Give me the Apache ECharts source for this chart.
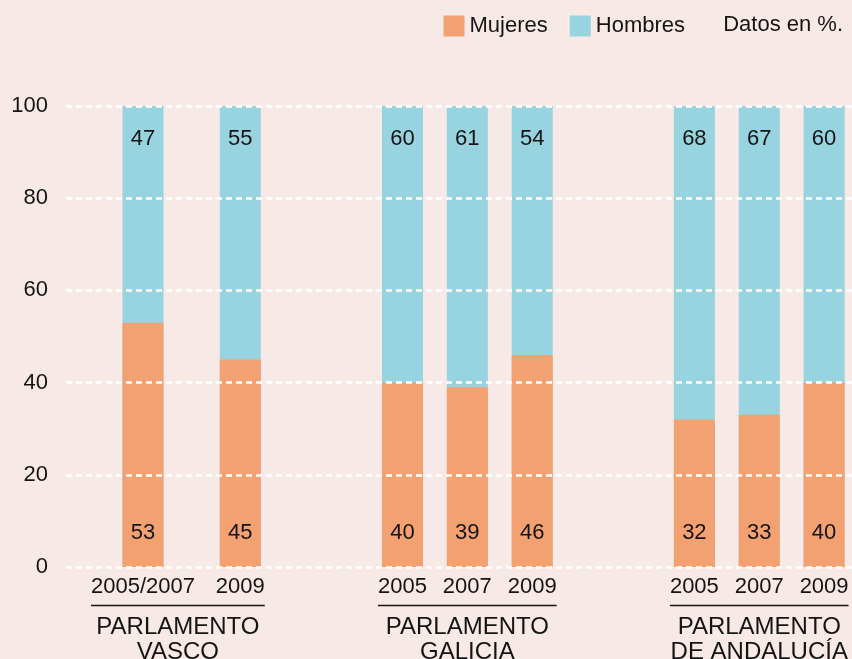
<!DOCTYPE html>
<html><head><meta charset="utf-8">
<script src="https://cdn.jsdelivr.net/npm/echarts@6/dist/echarts.min.js"></script>
<style>html,body{margin:0;padding:0;background:#f7e9e5}#c{width:852px;height:659px}</style>
</head><body><div id="c"></div>
<script>
const groupNames = ['PARLAMENTO\nVASCO', 'PARLAMENTO\nGALICIA', 'PARLAMENTO\nDE ANDALUCÍA'];
const yearLabels = ['2005/2007', '2009', '2005', '2007', '2009', '2005', '2007', '2009'];
const groupOfBar = [0, 0, 1, 1, 1, 2, 2, 2];
const barSlots = [0, 3, 8, 10, 12, 17, 19, 21]; // logical slot index of each bar (gaps between groups)
const mujeres = [53, 45, 40, 39, 46, 32, 33, 40];
const hombres = [47, 55, 60, 61, 54, 68, 67, 60];
const seriesNames = ['Mujeres', 'Hombres'];
const note = 'Datos en %.';

const FONT = "'Liberation Sans', Arial, Helvetica, sans-serif";
const TXT = '#141414';
const ORANGE = '#f4a172';
const BLUE = '#98d3e0';

const cv = document.createElement('canvas').getContext('2d');
function measure(t, size) { cv.font = size + 'px ' + FONT; return cv.measureText(t).width; }

const groupData = groupNames.map((n, g) => {
  const idx = groupOfBar.map((v, i) => v === g ? i : -1).filter(i => i >= 0);
  return [barSlots[idx[0]], barSlots[idx[idx.length - 1]], g, idx[0], idx[idx.length - 1]];
});

function renderGroup(params, api) {
  const g = api.value(2);
  const a = api.coord([api.value(0), 0]);
  const b = api.coord([api.value(1), 0]);
  const wa = measure(yearLabels[api.value(3)], 22);
  const wb = measure(yearLabels[api.value(4)], 22);
  const left = a[0] - wa / 2, right = b[0] + wb / 2;
  const cx = (left + right) / 2;
  const half = Math.max(right - left, measure('PARLAMENTO', 24)) / 2;
  const y0 = a[1];
  return {
    type: 'group',
    children: [
      { type: 'line', shape: { x1: cx - half, y1: y0 + 38.5, x2: cx + half, y2: y0 + 38.5 },
        style: { stroke: TXT, lineWidth: 1.6 } },
      { type: 'text', style: { text: groupNames[g], x: cx, y: y0 + 48, align: 'center', verticalAlign: 'top',
        fontSize: 24, fontFamily: FONT, lineHeight: 25, fill: TXT } }
    ]
  };
}

const chart = echarts.init(document.getElementById('c'));
chart.setOption({
  backgroundColor: '#f7e9e5',
  textStyle: { fontFamily: FONT },
  animation: false,
  title: { text: note, right: 9, top: 14, padding: 0,
    textStyle: { fontSize: 22, fontWeight: 'normal', color: TXT, fontFamily: FONT } },
  legend: {
    data: seriesNames, right: 167, top: 15, padding: 0,
    itemWidth: 21, itemHeight: 21, itemGap: 22,
    icon: 'rect',
    textStyle: { fontSize: 22, color: TXT, fontFamily: FONT }
  },
  grid: { left: 66, right: 0, top: 106, bottom: 92, containLabel: false },
  xAxis: {
    type: 'value', min: -2.374, max: 21.86,
    splitLine: { show: false }, axisLine: { show: false }, axisTick: { show: false },
    axisLabel: {
      customValues: barSlots,
      formatter: v => { const i = barSlots.indexOf(v); return i >= 0 ? yearLabels[i] : ''; },
      fontSize: 22, color: TXT, margin: 9, fontFamily: FONT
    }
  },
  yAxis: {
    type: 'value', min: 0, max: 100, interval: 20, z: 5,
    axisLine: { show: false }, axisTick: { show: false },
    axisLabel: { fontSize: 22, color: TXT, margin: 18, fontFamily: FONT },
    splitLine: { show: true, lineStyle: { color: '#ffffff', width: 2.5, type: [6, 4] } }
  },
  series: [
    // Hombres drawn as the full column (Mujeres + Hombres) behind, Mujeres on top of it
    { name: seriesNames[1], type: 'bar', barWidth: 41, barGap: '-100%', z: 1,
      itemStyle: { color: BLUE },
      encode: { x: 0, y: 1 },
      data: barSlots.map((s, i) => [s, mujeres[i] + hombres[i], hombres[i]]),
      label: { show: true, position: 'insideTop', distance: 22, fontSize: 22, color: TXT, fontFamily: FONT,
        formatter: p => p.value[2] } },
    { name: seriesNames[0], type: 'bar', barWidth: 41, barGap: '-100%', z: 2,
      itemStyle: { color: ORANGE },
      encode: { x: 0, y: 1 },
      data: barSlots.map((s, i) => [s, mujeres[i]]),
      label: { show: true, position: 'insideBottom', distance: 23, fontSize: 22, color: TXT, fontFamily: FONT } },
    { name: 'grupos', type: 'custom', clip: false, silent: true,
      encode: { x: [0, 1], y: 2 },
      data: groupData.map(d => [d[0], d[1], d[2], d[3], d[4]]),
      renderItem: renderGroup }
  ]
});
</script></body></html>
